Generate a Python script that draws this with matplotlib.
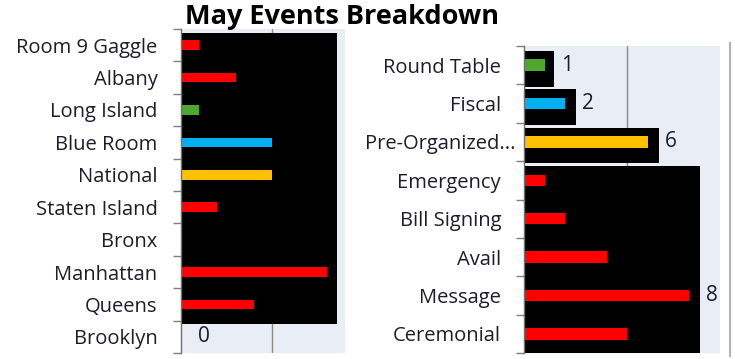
import matplotlib
matplotlib.use("Agg")
import matplotlib.pyplot as plt
from matplotlib.lines import Line2D
from matplotlib.transforms import ScaledTranslation
import numpy as np

plt.rcParams['font.family'] = ['Open Sans', 'DejaVu Sans']

# Event counts by location
left_categories = ["Room 9 Gaggle", "Albany", "Long Island", "Blue Room", "National",
                   "Staten Island", "Bronx", "Manhattan", "Queens", "Brooklyn"]
left_values = [1, 3, 1, 5, 5, 2, 0, 8, 4, 0]
left_colors = ["#ff0000", "#ff0000", "#4ea72e", "#00b0f0", "#ffc000",
               "#ff0000", "#ff0000", "#ff0000", "#ff0000", "#ff0000"]
left_backdrop = [8.55, 8.55, 8.55, 8.55, 8.55, 8.55, 8.55, 8.55, 8.55, 0]
left_labelled = ["Brooklyn"]

# Event counts by type
right_categories = ["Round Table", "Fiscal", "Pre-Organized...", "Emergency",
                    "Bill Signing", "Avail", "Message", "Ceremonial"]
right_values = [1, 2, 6, 1, 2, 4, 8, 5]
right_colors = ["#4ea72e", "#00b0f0", "#ffc000", "#ff0000",
                "#ff0000", "#ff0000", "#ff0000", "#ff0000"]
right_backdrop = [1.45, 2.5, 6.55, 8.55, 8.55, 8.55, 8.55, 8.55]
right_labelled = ["Round Table", "Fiscal", "Pre-Organized...", "Message"]

W, H = 735, 359
fig = plt.figure(figsize=(W / 100, H / 100), dpi=100)
fig.patch.set_facecolor("white")

PLOT_BG = "#e9edf5"
TEXT = "#1c1c2c"
GRID = "#8a8a8a"


def px_axes(x0, x1, y0, y1):
    return fig.add_axes([x0 / W, 1 - y1 / H, (x1 - x0) / W, (y1 - y0) / H])


def draw_panel(ax, cats, vals, colors, backdrop, labelled, xmax, top_off, bot_off, pad):
    n = len(cats)
    ax.set_facecolor(PLOT_BG)
    ax.set_xlim(0, xmax)
    ax.set_ylim(n - 0.5, -0.5)
    ax.axvline(5, color=GRID, lw=1.0, zorder=0.5)

    # black backdrop blocks, merged where neighbouring widths are equal
    i = 0
    while i < n:
        w = backdrop[i]
        j = i
        while j + 1 < n and backdrop[j + 1] == w:
            j += 1
        if w > 0:
            top = i + top_off
            bottom = j + bot_off
            ax.barh((top + bottom) / 2, w, height=bottom - top, left=0,
                    color="black", zorder=1)
        i = j + 1

    ypos = np.arange(n)
    ax.barh(ypos, vals, height=0.3, color=colors, zorder=2)

    for k, (c, v) in enumerate(zip(cats, vals)):
        if c in labelled:
            ax.annotate(str(v), (v, k), xytext=(12, 0), textcoords="offset points",
                        ha="left", va="center", fontsize=15, color=TEXT,
                        annotation_clip=False)

    ax.set_yticks(ypos)
    ax.set_yticklabels(cats, fontsize=14.5, color=TEXT)
    ax.set_yticks(np.arange(-0.5, n, 1), minor=True)
    ax.tick_params(axis="y", which="major", length=0, pad=pad)
    ax.tick_params(axis="y", which="minor", length=6, width=1, color="#7f7f7f")
    ax.set_xticks([])
    for s in ("top", "right", "bottom"):
        ax.spines[s].set_visible(False)
    ax.spines["left"].set_color("#6f6f6f")
    ax.spines["left"].set_linewidth(1.0)


ax_l = px_axes(181, 345, 29, 353)
draw_panel(ax_l, left_categories, left_values, left_colors, left_backdrop,
           left_labelled, 9.0, -0.38, 0.6, 17)

ax_r = px_axes(524, 720, 46, 353)
draw_panel(ax_r, right_categories, right_values, right_colors, right_backdrop,
           right_labelled, 9.5, -0.37, 0.56, 16.5)

# the truncated label sits closer to the axis
for lbl in ax_r.get_yticklabels():
    if lbl.get_text().endswith("..."):
        lbl.set_transform(lbl.get_transform() + ScaledTranslation(0.14, 0, fig.dpi_scale_trans))

# outer border on the right
fig.add_artist(Line2D([730 / W, 730 / W], [1 - 43 / H, 1 - 356 / H],
                      color="#b4b4b4", lw=1.5))

fig.text(342 / W, 1 - 17 / H, "May Events Breakdown", ha="center", va="center",
         fontsize=19.5, fontweight="bold", color="black")

fig.savefig("out.png", dpi=100, facecolor="white")
